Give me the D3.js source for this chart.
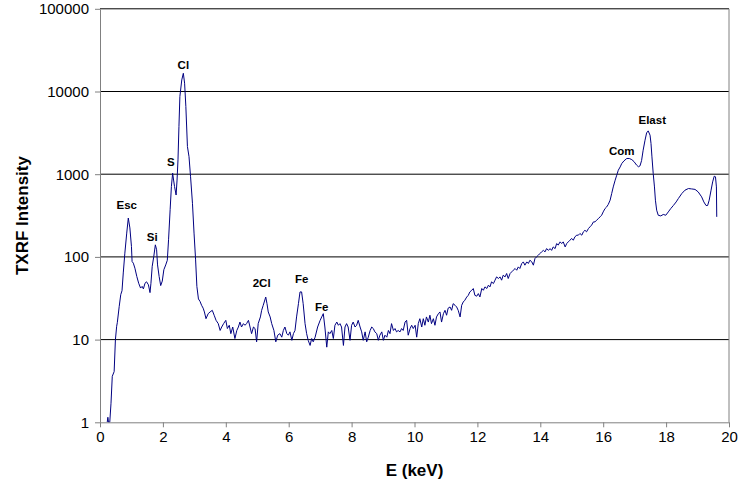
<!DOCTYPE html>
<html>
<head>
<meta charset="utf-8">
<script src="https://cdn.jsdelivr.net/npm/d3@7/dist/d3.min.js"></script>
<style>
  html, body { margin: 0; padding: 0; background: #fff; }
  svg { display: block; font-family: "Liberation Sans", Arial, sans-serif; }
</style>
</head>
<body>
<svg id="chart" width="739" height="492"></svg>
<script>
// TXRF spectrum: energy (keV) and measured intensity (counts)
const energy = [
  0.23,0.25,0.27,0.31,0.35,0.39,0.45,0.49,0.53,0.55,0.61,0.66,0.70,0.74,0.79,0.85,0.90,0.95,1.00,1.02,
  1.06,1.11,1.17,1.23,1.29,1.34,1.38,1.43,1.48,1.54,1.59,1.62,1.66,1.71,1.76,1.80,1.83,1.88,1.93,1.98,
  2.03,2.09,2.14,2.18,2.23,2.27,2.31,2.34,2.37,2.42,2.45,2.48,2.51,2.54,2.60,2.65,2.69,2.73,2.78,2.83,
  2.88,2.94,2.99,3.04,3.08,3.13,3.18,3.23,3.28,3.32,3.37,3.44,3.50,3.57,3.63,3.69,3.76,3.82,3.87,3.93,
  4.00,4.05,4.11,4.16,4.22,4.29,4.35,4.40,4.45,4.50,4.56,4.61,4.66,4.72,4.77,4.82,4.88,4.93,4.98,5.03,
  5.10,5.14,5.19,5.27,5.31,5.35,5.41,5.46,5.53,5.59,5.65,5.72,5.78,5.83,5.88,5.94,5.99,6.04,6.10,6.15,
  6.20,6.25,6.31,6.36,6.41,6.46,6.52,6.57,6.62,6.68,6.73,6.78,6.84,6.92,7.00,7.05,7.10,7.15,7.21,7.26,
  7.31,7.37,7.42,7.47,7.53,7.58,7.63,7.68,7.74,7.79,7.84,7.89,7.95,8.00,8.05,8.11,8.16,8.21,8.27,8.32,
  8.37,8.43,8.48,8.53,8.59,8.64,8.69,8.74,8.80,8.85,8.90,8.96,9.01,9.06,9.12,9.17,9.22,9.27,9.33,9.38,
  9.43,9.48,9.54,9.59,9.64,9.70,9.75,9.80,9.86,9.91,9.96,10.02,10.07,10.12,10.17,10.23,10.28,10.33,10.38,10.44,
  10.49,10.54,10.60,10.65,10.70,10.76,10.81,10.86,10.92,10.97,11.02,11.07,11.13,11.18,11.23,11.29,11.34,11.39,11.45,11.50,
  11.55,11.60,11.66,11.71,11.76,11.82,11.87,11.92,11.98,12.03,12.08,12.14,12.19,12.24,12.30,12.35,12.40,12.45,12.51,12.56,
  12.61,12.67,12.72,12.77,12.82,12.88,12.93,12.98,13.04,13.09,13.14,13.20,13.25,13.30,13.35,13.41,13.46,13.51,13.57,13.62,
  13.67,13.73,13.78,13.83,13.88,13.94,13.99,14.04,14.10,14.15,14.20,14.26,14.31,14.36,14.41,14.47,14.52,14.57,14.63,14.68,
  14.73,14.79,14.84,14.89,14.94,15.00,15.05,15.10,15.16,15.21,15.26,15.32,15.37,15.42,15.47,15.53,15.58,15.63,15.69,15.74,
  15.79,15.85,15.90,15.95,16.00,16.06,16.11,16.16,16.22,16.27,16.32,16.38,16.43,16.48,16.54,16.59,16.66,16.75,16.83,16.91,
  16.98,17.06,17.12,17.17,17.22,17.27,17.33,17.38,17.43,17.49,17.52,17.55,17.59,17.63,17.66,17.70,17.75,17.83,17.91,17.99,
  18.07,18.15,18.23,18.32,18.39,18.50,18.60,18.71,18.81,18.92,19.02,19.13,19.20,19.27,19.32,19.37,19.43,19.48,19.53,19.57,
  19.60,19.61
];
const intensity = [
  1,1.15,1,1,1.7,3.6,4.1,10,14.5,16,25,35,39,64,111,194,295,224,134,88,
  84,73,58,48,42,44,41,48,50,46,37,48,77,101,140,122,80,58,45,51,
  70,80,91,161,372,710,1030,850,710,560,850,1490,3780,8700,13800,16600,12600,6600,2160,1630,
  930,445,194,92,44,31,29,26,24,21.6,17.9,20.6,21.6,22.6,19.7,17.1,15.6,12.9,14.2,15.6,
  17.1,13.6,14.9,11.8,14.2,10.3,12.9,14.2,16.3,14.2,15.6,14.9,15.6,17.1,14.2,11.8,14.2,13.6,9.4,15.6,
  18.8,22.6,26,32.7,27.2,21.6,18.8,15.6,12.9,9.4,11.3,11.8,10.7,12.9,14.2,11.8,11.3,12.4,9.8,11.8,
  12.9,18.8,27.2,37.7,37.7,27.2,15.6,11.8,9.8,8.5,10.3,9.4,10.7,14.2,17.1,18.8,20.6,14.2,8.1,12.4,
  11.8,12.9,10.3,14.9,16.3,14.9,15.6,14.2,8.5,14.2,15.6,14.2,9.8,14.9,16.3,14.2,14.9,17.1,14.2,12.4,
  9.8,12.4,9.4,10.7,12.9,14.2,13.6,12.4,11.8,9.8,11.3,12.4,9.8,11.3,10.7,12.9,11.8,15.6,12.9,13.6,
  12.4,12.9,12.4,13.6,12.9,16.3,17.1,11.3,13.6,14.9,13.6,14.9,10.7,15.6,17.9,14.2,17.9,14.9,18.8,16.3,
  19.7,15.6,17.9,14.9,18.8,20.6,21.6,16.3,20.6,22.6,19.7,24,24.8,22.6,27.2,26,24.8,22.6,18.8,26,
  28.5,29.9,32.7,34.3,37.7,39.5,41.4,34.3,33.5,36,32.8,41.5,39.5,43.4,41.5,45.5,43.4,49.9,47.6,52.3,
  57.3,54.8,57.3,52.3,60.1,57.3,63,54.8,63,65.9,69,72.4,69,75.7,72.4,83.2,87,79.4,87,83.2,
  91.2,87,79.4,95.6,100,105,110,115,120,115,126,120,126,120,132,126,145,139,152,145,
  152,132,145,152,159,167,159,175,183,183,192,183,201,210,201,220,231,242,265,265,
  278,291,305,319,350,385,402,430,485,584,702,846,972,1117,1225,1346,1449,1549,1549,1500,
  1420,1290,1230,1260,1460,1950,2576,3157,3340,2963,2350,1620,1020,702,485,367,319,313,326,319,
  350,385,418,462,508,584,641,671,664,655,611,532,462,418,418,485,641,807,946,931,
  702,305
];

// Peak annotations: element line, label energy, label intensity
const peakNames = ["Esc", "Si", "S", "Cl", "2Cl", "Fe", "Fe", "Com", "Elast"];
const peakEnergy = [0.85, 1.66, 2.25, 2.65, 5.14, 6.41, 7.05, 16.59, 17.56];
const peakLevel = [378, 156, 1260, 18700, 43.4, 49, 21.9, 1710, 4100];

const xTicks = [0, 2, 4, 6, 8, 10, 12, 14, 16, 18, 20];
const yTicks = [1, 10, 100, 1000, 10000, 100000];

const svg = d3.select("#chart");
const plotLeft = 100, plotRight = 729, plotTop = 8.8, plotBottom = 422.3;

const x = d3.scaleLinear().domain([0, 20]).range([plotLeft, plotRight]);
const y = d3.scaleLog().domain([1, 100000]).range([plotBottom, plotTop]);

// horizontal gridlines at each decade
svg.append("g")
  .selectAll("line")
  .data(yTicks.filter(d => d > 1))
  .join("line")
  .attr("x1", plotLeft).attr("x2", plotRight)
  .attr("y1", d => y(d)).attr("y2", d => y(d))
  .attr("stroke", "#000").attr("stroke-width", 1);

// right border of plot area
svg.append("line")
  .attr("x1", plotRight).attr("x2", plotRight)
  .attr("y1", plotTop).attr("y2", plotBottom)
  .attr("stroke", "#808080");

// axes
const yAxis = svg.append("g")
  .attr("transform", `translate(${plotLeft},0)`)
  .call(d3.axisLeft(y).tickValues(yTicks).tickFormat(d3.format("d")).tickSize(5).tickSizeOuter(0).tickPadding(6));
const xAxis = svg.append("g")
  .attr("transform", `translate(0,${plotBottom})`)
  .call(d3.axisBottom(x).tickValues(xTicks).tickFormat(d3.format("d")).tickSize(5).tickSizeOuter(0).tickPadding(4));

[yAxis, xAxis].forEach(g => {
  g.selectAll("path, line").attr("stroke", "#808080");
  g.selectAll("text").attr("fill", "#000").style("font-size", "15px")
    .style("font-family", '"Liberation Sans", Arial, sans-serif');
});

// clip the spectrum to the plot area
svg.append("clipPath").attr("id", "plotClip")
  .append("rect").attr("x", plotLeft).attr("y", plotTop)
  .attr("width", plotRight - plotLeft).attr("height", plotBottom - plotTop);

const points = energy.map((e, i) => [e, intensity[i]]);
const line = d3.line().x(d => x(d[0])).y(d => y(d[1]));

svg.append("path")
  .datum(points)
  .attr("clip-path", "url(#plotClip)")
  .attr("d", line)
  .attr("fill", "none")
  .attr("stroke", "#000080")
  .attr("stroke-width", 1)
  .attr("stroke-linejoin", "round");

// peak labels
svg.append("g")
  .selectAll("text")
  .data(peakNames)
  .join("text")
  .attr("x", (d, i) => x(peakEnergy[i]))
  .attr("y", (d, i) => y(peakLevel[i]))
  .attr("text-anchor", "middle")
  .style("font-size", "11.5px")
  .style("font-weight", "bold")
  .text(d => d);

// axis titles
svg.append("text")
  .attr("x", (plotLeft + plotRight) / 2)
  .attr("y", 476)
  .attr("text-anchor", "middle")
  .style("font-size", "17px")
  .style("font-weight", "bold")
  .text("E (keV)");

svg.append("text")
  .attr("transform", `translate(28,${(plotTop + plotBottom) / 2}) rotate(-90)`)
  .attr("text-anchor", "middle")
  .style("font-size", "17px")
  .style("font-weight", "bold")
  .text("TXRF Intensity");
</script>
</body>
</html>
